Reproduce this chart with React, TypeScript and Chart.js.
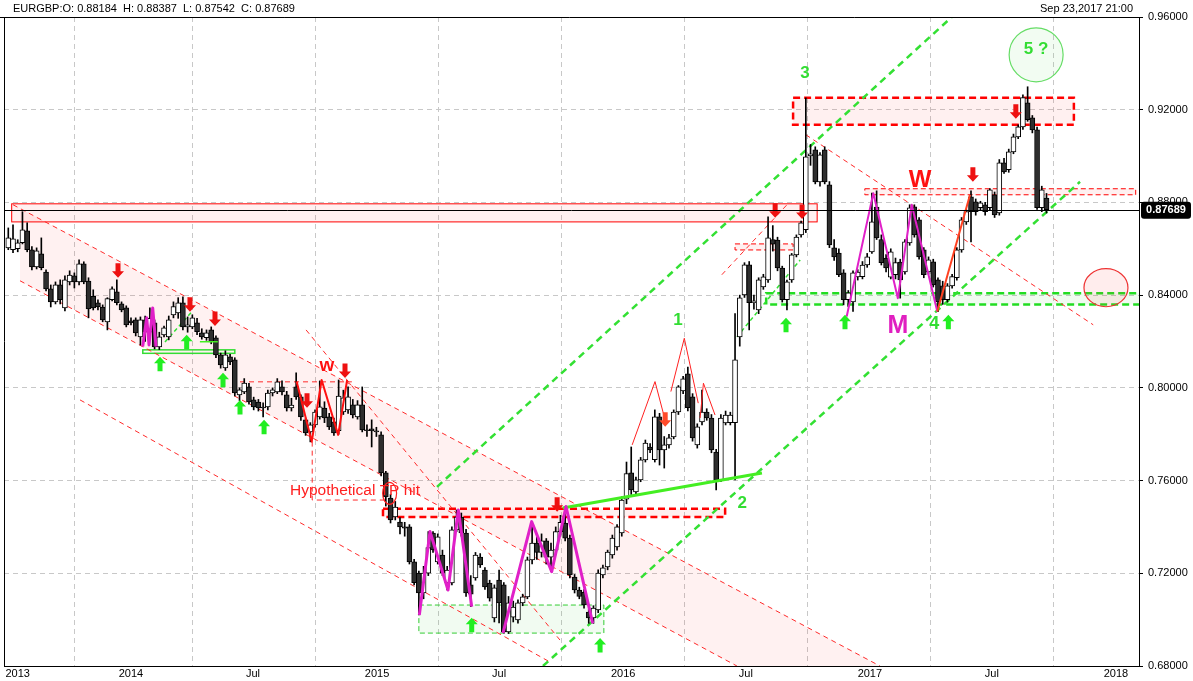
import React, { useEffect, useRef } from 'react';
import { Chart, registerables } from 'chart.js';

Chart.register(...registerables);

const FONT = '"Liberation Sans", Arial, sans-serif';
const DAY_MS = 86400000;
const dayOf = (y: number, m: number, d: number) => Date.UTC(y, m, d) / DAY_MS;
const FIRST_CANDLE = dayOf(2013, 6, 3);
const wk = (i: number) => FIRST_CANDLE + 7 * i;

// Weekly EURGBP candles (Jul 2013 - Sep 2017)
const opens = [
  0.8604, 0.8596, 0.8600, 0.8626, 0.8678, 0.8596, 0.8522, 0.8578, 0.8500, 0.8427,
  0.8371, 0.8444, 0.8345, 0.8457, 0.8483, 0.8457, 0.8535, 0.8461, 0.8395, 0.8367,
  0.8349, 0.8285, 0.8380, 0.8414, 0.8362, 0.8345, 0.8289, 0.8293, 0.8220, 0.8293,
  0.8240, 0.8281, 0.8177, 0.8228, 0.8220, 0.8315, 0.8323, 0.8367, 0.8263, 0.8263,
  0.8281, 0.8237, 0.8216, 0.8250, 0.8216, 0.8142, 0.8086, 0.8134, 0.8121, 0.7970,
  0.7982, 0.8004, 0.7948, 0.7939, 0.7917, 0.7918, 0.7978, 0.7982, 0.8004, 0.7970,
  0.7913, 0.8004, 0.7961, 0.7862, 0.7810, 0.7840, 0.7875, 0.7913, 0.7875, 0.7853,
  0.7815, 0.7896, 0.7905, 0.7927, 0.7875, 0.7927, 0.7819, 0.7823, 0.7815, 0.7797,
  0.7633, 0.7525, 0.7443, 0.7421, 0.7400, 0.7400, 0.7249, 0.7201, 0.7115, 0.7201,
  0.7374, 0.7249, 0.7279, 0.7158, 0.7158, 0.7387, 0.7443, 0.7374, 0.7150, 0.7180,
  0.7270, 0.7214, 0.7158, 0.7007, 0.7171, 0.7150, 0.6947, 0.7011, 0.6999, 0.7072,
  0.7098, 0.7258, 0.7330, 0.7290, 0.7340, 0.7270, 0.7300, 0.7380, 0.7417, 0.7352,
  0.7184, 0.7128, 0.7119, 0.7033, 0.7007, 0.7042, 0.7193, 0.7227, 0.7279, 0.7314,
  0.7374, 0.7520, 0.7633, 0.7551, 0.7603, 0.7689, 0.7745, 0.7690, 0.7875, 0.7732,
  0.7754, 0.7788, 0.7896, 0.7987, 0.8061, 0.7961, 0.7754, 0.7853, 0.7896, 0.7870,
  0.7723, 0.7603, 0.7849, 0.7850, 0.7850, 0.8220, 0.8401, 0.8531, 0.8367, 0.8336,
  0.8436, 0.8466, 0.8640, 0.8638, 0.8517, 0.8380, 0.8466, 0.8574, 0.8660, 0.8682,
  0.9001, 0.9027, 0.8889, 0.9027, 0.8876, 0.8604, 0.8582, 0.8496, 0.8380, 0.8371,
  0.8479, 0.8480, 0.8530, 0.8587, 0.8780, 0.8640, 0.8560, 0.8478, 0.8488, 0.8543,
  0.8500, 0.8625, 0.8781, 0.8725, 0.8595, 0.8500, 0.8544, 0.8466, 0.8440, 0.8380,
  0.8440, 0.8475, 0.8595, 0.8716, 0.8824, 0.8803, 0.8777, 0.8790, 0.8777, 0.8833,
  0.8755, 0.8971, 0.8941, 0.9018, 0.9083, 0.9126, 0.9230, 0.9165, 0.9113, 0.8777,
  0.88184,
];
const highs = [
  0.8690, 0.8703, 0.8639, 0.8760, 0.8712, 0.8609, 0.8604, 0.8647, 0.8509, 0.8444,
  0.8457, 0.8466, 0.8483, 0.8505, 0.8496, 0.8552, 0.8544, 0.8475, 0.8423, 0.8380,
  0.8358, 0.8389, 0.8436, 0.8466, 0.8371, 0.8354, 0.8302, 0.8302, 0.8306, 0.8310,
  0.8345, 0.8293, 0.8240, 0.8267, 0.8310, 0.8371, 0.8389, 0.8393, 0.8306, 0.8315,
  0.8300, 0.8255, 0.8250, 0.8263, 0.8225, 0.8150, 0.8160, 0.8145, 0.8130, 0.8000,
  0.8040, 0.8020, 0.7960, 0.7950, 0.7935, 0.7990, 0.8000, 0.8040, 0.8030, 0.7985,
  0.7955, 0.8065, 0.7970, 0.7870, 0.7850, 0.7905, 0.8030, 0.7940, 0.7890, 0.7870,
  0.8034, 0.7990, 0.8004, 0.7950, 0.7945, 0.8004, 0.7840, 0.7862, 0.7830, 0.7810,
  0.7640, 0.7540, 0.7510, 0.7440, 0.7420, 0.7410, 0.7260, 0.7210, 0.7230, 0.7380,
  0.7380, 0.7370, 0.7300, 0.7230, 0.7400, 0.7473, 0.7460, 0.7390, 0.7190, 0.7290,
  0.7285, 0.7225, 0.7170, 0.7150, 0.7214, 0.7160, 0.7100, 0.7080, 0.7085, 0.7110,
  0.7270, 0.7423, 0.7360, 0.7370, 0.7350, 0.7330, 0.7400, 0.7450, 0.7488, 0.7365,
  0.7195, 0.7140, 0.7130, 0.7045, 0.7060, 0.7215, 0.7235, 0.7300, 0.7365, 0.7410,
  0.7530, 0.7680, 0.7745, 0.7615, 0.7700, 0.7775, 0.7760, 0.7905, 0.7890, 0.7790,
  0.7800, 0.7905, 0.8010, 0.8050, 0.8090, 0.7975, 0.7845, 0.7990, 0.7910, 0.7885,
  0.7735, 0.7885, 0.7900, 0.7895, 0.8320, 0.8400, 0.8540, 0.8545, 0.8400, 0.8475,
  0.8490, 0.8738, 0.8700, 0.8650, 0.8525, 0.8465, 0.8580, 0.8660, 0.8720, 0.9251,
  0.9050, 0.9040, 0.9015, 0.9040, 0.8890, 0.8640, 0.8600, 0.8510, 0.8420, 0.8505,
  0.8510, 0.8545, 0.8580, 0.8840, 0.8850, 0.8660, 0.8575, 0.8600, 0.8560, 0.8555,
  0.8640, 0.8790, 0.8790, 0.8735, 0.8605, 0.8565, 0.8555, 0.8475, 0.8460, 0.8450,
  0.8490, 0.8605, 0.8735, 0.8770, 0.8850, 0.8815, 0.8805, 0.8800, 0.8860, 0.8845,
  0.8985, 0.8990, 0.9030, 0.9095, 0.9135, 0.9264, 0.9299, 0.9175, 0.9125, 0.8870,
  0.88387,
];
const lows = [
  0.8596, 0.8583, 0.8587, 0.8621, 0.8587, 0.8509, 0.8513, 0.8509, 0.8418, 0.8349,
  0.8362, 0.8362, 0.8332, 0.8444, 0.8431, 0.8444, 0.8449, 0.8302, 0.8336, 0.8336,
  0.8285, 0.8250, 0.8375, 0.8358, 0.8328, 0.8263, 0.8272, 0.8224, 0.8185, 0.8200,
  0.8215, 0.8168, 0.8165, 0.8220, 0.8207, 0.8302, 0.8300, 0.8250, 0.8240, 0.8255,
  0.8230, 0.8210, 0.8205, 0.8190, 0.8130, 0.8085, 0.8075, 0.8100, 0.7965, 0.7945,
  0.7975, 0.7930, 0.7905, 0.7900, 0.7875, 0.7905, 0.7965, 0.7975, 0.7970, 0.7900,
  0.7900, 0.7950, 0.7860, 0.7795, 0.7767, 0.7830, 0.7865, 0.7850, 0.7820, 0.7795,
  0.7800, 0.7885, 0.7890, 0.7870, 0.7865, 0.7810, 0.7790, 0.7745, 0.7790, 0.7620,
  0.7490, 0.7417, 0.7430, 0.7370, 0.7360, 0.7240, 0.7150, 0.7020, 0.7090, 0.7190,
  0.7290, 0.7240, 0.7190, 0.7128, 0.7150, 0.7380, 0.7360, 0.7100, 0.7056, 0.7170,
  0.7225, 0.7130, 0.7080, 0.6990, 0.6986, 0.6942, 0.6940, 0.6990, 0.6985, 0.7060,
  0.7090, 0.7240, 0.7260, 0.7270, 0.7240, 0.7207, 0.7280, 0.7360, 0.7340, 0.7180,
  0.7115, 0.7090, 0.7050, 0.6984, 0.6984, 0.7030, 0.7180, 0.7215, 0.7265, 0.7300,
  0.7360, 0.7500, 0.7540, 0.7540, 0.7595, 0.7680, 0.7720, 0.7680, 0.7667, 0.7654,
  0.7740, 0.7780, 0.7885, 0.7975, 0.7900, 0.7770, 0.7740, 0.7840, 0.7860, 0.7720,
  0.7560, 0.7595, 0.7840, 0.7840, 0.7603, 0.8180, 0.8390, 0.8250, 0.8340, 0.8320,
  0.8425, 0.8455, 0.8590, 0.8505, 0.8370, 0.8336, 0.8455, 0.8565, 0.8650, 0.8670,
  0.8960, 0.8880, 0.8870, 0.8880, 0.8605, 0.8550, 0.8480, 0.8358, 0.8350, 0.8330,
  0.8465, 0.8470, 0.8520, 0.8580, 0.8640, 0.8530, 0.8500, 0.8470, 0.8470, 0.8387,
  0.8490, 0.8615, 0.8650, 0.8555, 0.8475, 0.8490, 0.8435, 0.8329, 0.8360, 0.8370,
  0.8430, 0.8465, 0.8585, 0.8705, 0.8630, 0.8745, 0.8765, 0.8745, 0.8765, 0.8735,
  0.8745, 0.8925, 0.8930, 0.9010, 0.9075, 0.9115, 0.9150, 0.9100, 0.8770, 0.8760,
  0.87542,
];
const closes = [
  0.8647, 0.8643, 0.8626, 0.8682, 0.8596, 0.8522, 0.8591, 0.8518, 0.8427, 0.8371,
  0.8444, 0.8380, 0.8466, 0.8487, 0.8457, 0.8535, 0.8457, 0.8341, 0.8345, 0.8349,
  0.8293, 0.8385, 0.8427, 0.8367, 0.8336, 0.8272, 0.8281, 0.8237, 0.8293, 0.8240,
  0.8300, 0.8177, 0.8220, 0.8259, 0.8293, 0.8351, 0.8367, 0.8263, 0.8272, 0.8302,
  0.8242, 0.8220, 0.8237, 0.8198, 0.8142, 0.8099, 0.8142, 0.8112, 0.7978, 0.7991,
  0.8021, 0.7939, 0.7918, 0.7913, 0.7913, 0.7978, 0.7991, 0.8026, 0.7982, 0.7913,
  0.7926, 0.7961, 0.7875, 0.7806, 0.7840, 0.7896, 0.7918, 0.7870, 0.7832, 0.7806,
  0.7965, 0.7957, 0.7961, 0.7883, 0.7927, 0.7819, 0.7815, 0.7815, 0.7810, 0.7633,
  0.7530, 0.7430, 0.7486, 0.7400, 0.7395, 0.7249, 0.7160, 0.7115, 0.7201, 0.7311,
  0.7301, 0.7357, 0.7201, 0.7214, 0.7387, 0.7443, 0.7374, 0.7115, 0.7110, 0.7279,
  0.7236, 0.7141, 0.7093, 0.7137, 0.7072, 0.6947, 0.7072, 0.7054, 0.7072, 0.7098,
  0.7258, 0.7330, 0.7290, 0.7340, 0.7270, 0.7300, 0.7380, 0.7420, 0.7352, 0.7193,
  0.7128, 0.7100, 0.7063, 0.7007, 0.7050, 0.7201, 0.7223, 0.7292, 0.7352, 0.7400,
  0.7516, 0.7630, 0.7560, 0.7603, 0.7689, 0.7762, 0.7732, 0.7875, 0.7732, 0.7754,
  0.7784, 0.7896, 0.8004, 0.8039, 0.7914, 0.7784, 0.7832, 0.7896, 0.7870, 0.7732,
  0.7603, 0.7870, 0.7883, 0.7883, 0.8121, 0.8388, 0.8531, 0.8367, 0.8375, 0.8466,
  0.8479, 0.8647, 0.8620, 0.8517, 0.8380, 0.8457, 0.8574, 0.8651, 0.8712, 0.8997,
  0.9010, 0.8889, 0.9005, 0.8889, 0.8617, 0.8565, 0.8488, 0.8380, 0.8410, 0.8496,
  0.8500, 0.8530, 0.8565, 0.8716, 0.8647, 0.8540, 0.8517, 0.8587, 0.8540, 0.8466,
  0.8630, 0.8777, 0.8660, 0.8565, 0.8488, 0.8552, 0.8444, 0.8371, 0.8380, 0.8440,
  0.8480, 0.8595, 0.8725, 0.8760, 0.8760, 0.8760, 0.8798, 0.8760, 0.8854, 0.8746,
  0.8971, 0.8932, 0.9018, 0.9083, 0.9126, 0.9252, 0.9157, 0.9113, 0.8777, 0.8854,
  0.87689,
];

const tickLabels = ['2013', '2014', 'Jul', '2015', 'Jul', '2016', 'Jul', '2017', 'Jul', '2018'];
const tickDates = [[2013, 6, 17], [2014, 0, 1], [2014, 6, 1], [2015, 0, 1], [2015, 6, 1], [2016, 0, 1], [2016, 6, 1], [2017, 0, 1], [2017, 6, 1], [2018, 0, 1]];
const priceTicks = [0.68, 0.72, 0.76, 0.80, 0.84, 0.88, 0.92, 0.96];

const headerText = 'EURGBP:O: 0.88184  H: 0.88387  L: 0.87542  C: 0.87689';
const headerDate = 'Sep 23,2017 21:00';

// ---- annotations, in (week index, price) ----
const channelBand = [[2.48, 0.8774], [184.7, 0.68], [154.4, 0.68], [2.48, 0.8462]];
const redSolidBox = [0.72, 171.4, 0.8794, 0.8716];
const redThickBoxes = [[166.3, 225.8, 0.9252, 0.9135], [79.4, 151.9, 0.7478, 0.7443]];
const redThinBoxes = [[181.5, 238.9, 0.8859, 0.8833], [154.0, 166.3, 0.8621, 0.8595]];
const greenThinBox = [87.0, 126.2, 0.7063, 0.6942];
const greenThickBox = [160.6, 241, 0.8408, 0.8360];
const greenSolidBox = [28.5, 48.0, 0.8164, 0.8149];
const redDashedLines = [
  [[1.0, 0.8790], [184.7, 0.6800]],
  [[2.48, 0.8462], [154.4, 0.6800]],
  [[15.2, 0.7948], [114.8, 0.6817]],
  [[63.1, 0.8250], [116.9, 0.6912]],
  [[169.0, 0.9092], [229.9, 0.8272]],
  [[151.2, 0.8488], [165.0, 0.8790]],
  [[49.1, 0.8026], [72.8, 0.8026]],
  [[64.4, 0.7768], [64.4, 0.7516], [82.4, 0.7516]],
];
const greenThickDashed = [
  [[90.85, 0.7573], [201.6, 0.9631]],
  [[113.3, 0.6800], [227.1, 0.8889]],
];
const greenThinDashed = [
  [[154.4, 0.8220], [167.8, 0.8552]],
  [[33.2, 0.8198], [38.9, 0.8328]],
];
const greenSolidLines = [
  { pts: [[117.5, 0.7482], [159.7, 0.7633]], w: 3 },
  { pts: [[40.6, 0.8199], [44.4, 0.8199]], w: 1.5 },
];
const magentaZigzags = [
  { pts: [[28.48, 0.8178], [29.33, 0.8302], [29.82, 0.8185], [30.6, 0.8345], [31.3, 0.8178]], w: 3 },
  { pts: [[87.1, 0.7020], [89.36, 0.7380], [93.18, 0.7128], [95.36, 0.7473], [98.2, 0.7056]], w: 3 },
  { pts: [[104.83, 0.6942], [110.9, 0.7423], [115.15, 0.7207], [118.18, 0.7488], [123.84, 0.6984]], w: 3 },
  { pts: [[177.66, 0.8308], [183.3, 0.8840], [188.5, 0.8387], [191.44, 0.8790], [196.86, 0.8329]], w: 2 },
];
const redZigzags = [
  { pts: [[61.1, 0.8027], [64.3, 0.7768], [66.4, 0.8034], [69.9, 0.7797], [71.8, 0.8034]], w: 2, c: '#ff1010' },
  { pts: [[196.86, 0.8329], [203.79, 0.8833]], w: 2, c: '#ff4020' },
  { pts: [[132.2, 0.7754], [137.04, 0.8027], [138.9, 0.7883]], w: 1, c: '#ff2020' },
  { pts: [[140.4, 0.7984], [143.25, 0.8214], [146.2, 0.7934]], w: 1, c: '#ff2020' },
  { pts: [[146.6, 0.7870], [147.3, 0.8020], [149.76, 0.7883]], w: 1, c: '#ff2020' },
];
const redArrows = [[23.25, 0.8475], [38.5, 0.8328], [43.8, 0.8267], [63.3, 0.7914], [71.35, 0.8043], [116.3, 0.7465], [139.2, 0.7832], [162.5, 0.8734], [168.2, 0.8729], [204.4, 0.8889], [213.5, 0.9161]];
const greenArrows = [[32.15, 0.8134], [37.8, 0.8229], [45.5, 0.8065], [49.1, 0.7948], [54.2, 0.7862], [98.2, 0.7008], [125.4, 0.6921], [164.8, 0.8302], [177.3, 0.8315], [199.2, 0.8315]];
const ellipses = [
  { c: [217.8, 0.9437], rx: 5.72, ry: 0.01165, stroke: '#66dd66', fill: 'rgba(90,220,90,0.08)' },
  { c: [232.6, 0.8432], rx: 4.66, ry: 0.0082, stroke: '#ee3333', fill: 'rgba(255,60,60,0.09)' },
  { c: [80.8, 0.7545], rx: 1.48, ry: 0.00475, stroke: '#ff2020', fill: null },
];
const textLabels = [
  { t: 'w', i: 67.5, p: 0.8095, c: '#ff1010', f: 'bold 19px', a: 'center' },
  { t: 'W', i: 193.2, p: 0.8893, c: '#ff1010', f: 'bold 24px', a: 'center' },
  { t: 'M', i: 188.5, p: 0.8267, c: '#e020c0', f: 'bold 25px', a: 'center' },
  { t: '4', i: 196.2, p: 0.8276, c: '#33dd33', f: 'bold 18px', a: 'center' },
  { t: '1', i: 141.9, p: 0.8293, c: '#33dd33', f: 'bold 17px', a: 'center' },
  { t: '2', i: 155.5, p: 0.7504, c: '#33dd33', f: 'bold 17px', a: 'center' },
  { t: '3', i: 168.8, p: 0.9359, c: '#33dd33', f: 'bold 17px', a: 'center' },
  { t: '5 ?', i: 217.8, p: 0.9459, c: '#33dd33', f: 'bold 17px', a: 'center' },
  { t: 'Hypothetical TP hit', i: 59.7, p: 0.7555, c: '#ff2020', f: '15.5px', a: 'left' },
];

function drawPath(ctx, X, Y, pts) {
  ctx.beginPath();
  pts.forEach((pt, k) => (k ? ctx.lineTo(X(pt[0]), Y(pt[1])) : ctx.moveTo(X(pt[0]), Y(pt[1]))));
}
function drawBox(ctx, X, Y, b, stroke, lw, dash, fill) {
  const x1 = X(b[0]), x2 = X(b[1]), y1 = Y(b[2]), y2 = Y(b[3]);
  if (fill) { ctx.fillStyle = fill; ctx.fillRect(x1, y1, x2 - x1, y2 - y1); }
  ctx.strokeStyle = stroke; ctx.lineWidth = lw; ctx.setLineDash(dash);
  ctx.strokeRect(x1, y1, x2 - x1, y2 - y1);
}
function drawArrow(ctx, x, tip, down, color) {
  const s = down ? -1 : 1;
  const hw = 6, hh = 6.5, sw = 2.5, sh = 8;
  ctx.fillStyle = color;
  ctx.beginPath();
  ctx.moveTo(x, tip);
  ctx.lineTo(x - hw, tip + s * hh);
  ctx.lineTo(x - sw, tip + s * hh);
  ctx.lineTo(x - sw, tip + s * (hh + sh));
  ctx.lineTo(x + sw, tip + s * (hh + sh));
  ctx.lineTo(x + sw, tip + s * hh);
  ctx.lineTo(x + hw, tip + s * hh);
  ctx.closePath();
  ctx.fill();
}

const annotationPlugin = {
  id: 'tradeAnnotations',
  beforeDatasetsDraw(chart) {
    const { ctx, chartArea: a, scales } = chart;
    const X = (i) => scales.x.getPixelForValue(wk(i));
    const Y = (p) => scales.y.getPixelForValue(p);
    ctx.save();
    ctx.beginPath(); ctx.rect(a.left, a.top, a.right - a.left, a.bottom - a.top); ctx.clip();
    drawPath(ctx, X, Y, channelBand); ctx.closePath();
    ctx.fillStyle = 'rgba(255,60,60,0.07)'; ctx.fill();
    drawBox(ctx, X, Y, redSolidBox, '#ff0000', 1, [], 'rgba(255,60,60,0.08)');
    redThinBoxes.forEach((b) => drawBox(ctx, X, Y, b, '#ff0000', 1, [5, 3], 'rgba(255,60,60,0.08)'));
    redThickBoxes.forEach((b) => drawBox(ctx, X, Y, b, '#ff0000', 2.5, [7, 4], 'rgba(255,60,60,0.08)'));
    drawBox(ctx, X, Y, greenThinBox, '#33cc33', 1, [5, 3], 'rgba(60,200,60,0.07)');
    drawBox(ctx, X, Y, greenThickBox, '#22dd22', 2.5, [7, 4], 'rgba(60,200,60,0.07)');
    drawBox(ctx, X, Y, greenSolidBox, '#33dd33', 1.5, [], null);
    ellipses.forEach((e) => {
      if (!e.fill) return;
      ctx.beginPath();
      ctx.ellipse(X(e.c[0]), Y(e.c[1]), Math.abs(X(e.c[0] + e.rx) - X(e.c[0])), Math.abs(Y(e.c[1] + e.ry) - Y(e.c[1])), 0, 0, Math.PI * 2);
      ctx.fillStyle = e.fill; ctx.fill();
    });
    ctx.setLineDash([5, 4]); ctx.lineWidth = 1; ctx.strokeStyle = '#ff2a2a';
    redDashedLines.forEach((l) => { drawPath(ctx, X, Y, l); ctx.stroke(); });
    ctx.setLineDash([7, 5]); ctx.lineWidth = 2.5; ctx.strokeStyle = '#33e033';
    greenThickDashed.forEach((l) => { drawPath(ctx, X, Y, l); ctx.stroke(); });
    ctx.setLineDash([4, 3]); ctx.lineWidth = 1.5;
    greenThinDashed.forEach((l) => { drawPath(ctx, X, Y, l); ctx.stroke(); });
    ctx.restore();
  },
  afterDatasetsDraw(chart) {
    const { ctx, chartArea: a, scales } = chart;
    const X = (i) => scales.x.getPixelForValue(wk(i));
    const Y = (p) => scales.y.getPixelForValue(p);
    ctx.save();
    ctx.beginPath(); ctx.rect(a.left, a.top, a.right - a.left, a.bottom - a.top); ctx.clip();
    ctx.setLineDash([]);
    ctx.lineJoin = 'round';
    greenSolidLines.forEach((l) => { ctx.strokeStyle = '#44ee22'; ctx.lineWidth = l.w; drawPath(ctx, X, Y, l.pts); ctx.stroke(); });
    magentaZigzags.forEach((l) => { ctx.strokeStyle = '#e020c8'; ctx.lineWidth = l.w; drawPath(ctx, X, Y, l.pts); ctx.stroke(); });
    redZigzags.forEach((l) => { ctx.strokeStyle = l.c; ctx.lineWidth = l.w; drawPath(ctx, X, Y, l.pts); ctx.stroke(); });
    ellipses.forEach((e) => {
      ctx.beginPath();
      ctx.ellipse(X(e.c[0]), Y(e.c[1]), Math.abs(X(e.c[0] + e.rx) - X(e.c[0])), Math.abs(Y(e.c[1] + e.ry) - Y(e.c[1])), 0, 0, Math.PI * 2);
      ctx.strokeStyle = e.stroke; ctx.lineWidth = 1.2; ctx.stroke();
    });
    redArrows.forEach((r) => drawArrow(ctx, X(r[0]), Y(r[1]), true, r[0] === 139.2 ? '#ff4a2a' : '#ee1111'));
    greenArrows.forEach((g) => drawArrow(ctx, X(g[0]), Y(g[1]), false, '#22ee22'));
    textLabels.forEach((t) => {
      ctx.font = `${t.f} ${FONT}`; ctx.fillStyle = t.c; ctx.textAlign = t.a; ctx.textBaseline = 'middle';
      ctx.fillText(t.t, X(t.i), Y(t.p));
    });
    const last = closes[closes.length - 1];
    const yp = Math.round(Y(last)) + 0.5;
    ctx.strokeStyle = '#000'; ctx.lineWidth = 1;
    ctx.beginPath(); ctx.moveTo(a.left, yp); ctx.lineTo(a.right, yp); ctx.stroke();
    ctx.restore();
  },
  afterDraw(chart) {
    const { ctx, chartArea: a, scales } = chart;
    ctx.save();
    ctx.strokeStyle = '#000'; ctx.lineWidth = 1; ctx.setLineDash([]);
    ctx.beginPath();
    ctx.moveTo(0, Math.round(a.top) + 0.5); ctx.lineTo(Math.round(a.right) + 0.5, Math.round(a.top) + 0.5);
    ctx.moveTo(Math.round(a.left) + 0.5, a.top); ctx.lineTo(Math.round(a.left) + 0.5, a.bottom);
    ctx.stroke();
    ctx.font = `11px ${FONT}`; ctx.fillStyle = '#000'; ctx.textBaseline = 'middle';
    ctx.textAlign = 'left'; ctx.fillText(headerText, 13, 9);
    ctx.textAlign = 'right'; ctx.fillText(headerDate, 1133, 9);
    const last = closes[closes.length - 1];
    const yp = scales.y.getPixelForValue(last);
    ctx.fillStyle = '#000';
    ctx.beginPath(); ctx.roundRect(a.right + 2, yp - 8, 50, 17, 3); ctx.fill();
    ctx.fillStyle = '#fff'; ctx.font = `bold 11px ${FONT}`; ctx.textAlign = 'center';
    ctx.fillText(last.toFixed(5), a.right + 27, yp + 0.5);
    ctx.restore();
  },
};

export default function App() {
  const ref = useRef(null);
  useEffect(() => {
    const candleX = closes.map((_, i) => wk(i));
    const wickData = candleX.map((x, i) => ({ x, y: [lows[i], highs[i]] }));
    const bodyData = candleX.map((x, i) => ({ x, y: [opens[i], closes[i]] }));
    const bodyColors = closes.map((c, i) => (c >= opens[i] ? '#ffffff' : '#2e2e2e'));
    const tickDays = tickDates.map((d) => dayOf(d[0], d[1], d[2]));
    const chart = new Chart(ref.current, {
      type: 'bar',
      data: {
        datasets: [
          { label: 'wick', data: wickData, backgroundColor: '#000', barThickness: 1, grouped: false, order: 2 },
          { label: 'body', data: bodyData, backgroundColor: bodyColors, borderColor: '#000', borderWidth: 1, borderSkipped: false, barThickness: 5, minBarLength: 1, grouped: false, order: 1 },
        ],
      },
      options: {
        responsive: false,
        animation: false,
        devicePixelRatio: 1,
        layout: { padding: { top: 17, left: 4, right: 0, bottom: 0 } },
        plugins: { legend: { display: false }, tooltip: { enabled: false } },
        scales: {
          x: {
            type: 'linear',
            min: wk(-0.91),
            max: wk(239.6),
            offset: false,
            afterBuildTicks: (s) => { s.ticks = tickDays.map((v) => ({ value: v })); },
            afterFit: (s) => { s.height = 15; },
            ticks: { autoSkip: false, maxRotation: 0, minRotation: 0, padding: 1, color: '#000', font: { family: FONT, size: 11 }, callback: (_v, idx) => tickLabels[idx] },
            grid: { color: '#c8c8c8', drawTicks: false },
            border: { display: true, color: '#000', dash: [5, 4] },
          },
          y: {
            position: 'right',
            min: 0.68,
            max: 0.96,
            afterBuildTicks: (s) => { s.ticks = priceTicks.map((v) => ({ value: v })); },
            afterFit: (s) => { s.width = 54; },
            ticks: { padding: 5, color: '#000', font: { family: FONT, size: 11 }, callback: (v) => Number(v).toFixed(5) },
            grid: { color: '#c8c8c8', tickColor: '#000', tickLength: 4, tickBorderDash: [0, 0] },
            border: { display: true, color: '#000', dash: [5, 4] },
          },
        },
      },
      plugins: [annotationPlugin],
    });
    return () => chart.destroy();
  }, []);
  return (
    <div style={{ position: 'fixed', left: 0, top: 0, width: 1193, height: 681, background: '#fff' }}>
      <canvas ref={ref} width={1193} height={681} style={{ display: 'block' }} />
    </div>
  );
}
